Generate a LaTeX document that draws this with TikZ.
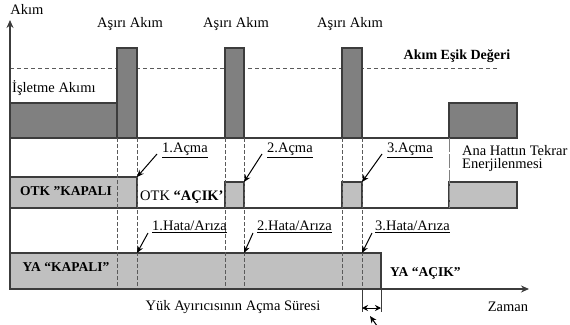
\documentclass[tikz,border=0pt]{standalone}
\usepackage{fontspec}
\setmainfont{Liberation Serif}
\usetikzlibrary{arrows.meta}
\definecolor{darkfill}{RGB}{128,128,128}
\definecolor{lightfill}{RGB}{192,192,192}
\definecolor{edgecol}{RGB}{60,60,60}
\definecolor{dashcol}{RGB}{90,90,90}
\begin{document}
\begin{tikzpicture}[x=1pt,y=-1pt,
  txt/.style={inner sep=0pt,font=\fontsize{14.5}{16}\selectfont},
  btxt/.style={inner sep=0pt,font=\fontsize{13.5}{15}\selectfont\bfseries},
  darkbox/.style={draw=edgecol,fill=darkfill,line width=1.1pt},
  lightbox/.style={draw=edgecol,fill=lightfill,line width=1.1pt},
  level/.style={draw=edgecol,line width=1.1pt},
  guide/.style={draw=dashcol,line width=0.9pt,dash pattern=on 3.5pt off 2.5pt},
  pointer/.style={draw=black,line width=1pt,-{Stealth[length=7pt,width=6pt]}},
  axis/.style={draw=edgecol,line width=1.4pt,-{Stealth[length=8pt,width=7pt]}}
]
\useasboundingbox (0,0) rectangle (570,324);

% axes
\coordinate (O) at (10,289);
\coordinate (ytop) at (10,20);
\coordinate (xend) at (529,289);

% current threshold
\draw[draw=dashcol,line width=0.9pt,dash pattern=on 4pt off 3pt] (10,68) -- (498,68);

% current trace
\draw[level] (10,138) -- (449,138);
\draw[darkbox] (10,103) rectangle (117,138);
\draw[darkbox] (117,48) rectangle (137,138);
\draw[darkbox] (225,48) rectangle (244,138);
\draw[darkbox] (342,48) rectangle (362,138);
\draw[darkbox] (449,103) rectangle (517,138);

% OTK trace
\draw[level] (10,208) -- (449,208);
\draw[lightbox] (10,177) rectangle (137,208);
\draw[lightbox] (225,182) rectangle (244,208);
\draw[lightbox] (342,182) rectangle (362,208);
\draw[lightbox] (449,182) rectangle (517,208);
\draw[draw=gray,line width=0.9pt,dash pattern=on 14pt off 2pt] (449,138) -- (449,208);

% YA trace
\draw[lightbox] (10,253) rectangle (381,289);

% corner points that the pointers reach
\coordinate (otk1) at (137,177);
\coordinate (otk2) at (244,182);
\coordinate (otk3) at (362,182);
\coordinate (ya1) at (137,253);
\coordinate (ya2) at (244,253);
\coordinate (ya3) at (362,253);

% switching instants
\foreach \xx in {117,137,225,244,342,362}
  \draw[guide] (\xx,138) -- (\xx,289);

% opening time of the load break switch
\coordinate (t1) at (362,312);
\coordinate (t2) at (381,312);
\draw[edgecol,line width=1pt] (362,289) -- (t1);
\draw[edgecol,line width=1pt] (381,253) -- (t2);
\coordinate (d1) at (362,308);
\coordinate (d2) at (381,308);
\draw[black,line width=1pt,{Stealth[length=6pt,width=6pt]}-{Stealth[length=6pt,width=6pt]}] (d1) -- (d2);
\coordinate (q1) at (380,330);
\coordinate (q2) at (370,316);
\draw[pointer] (q1) -- (q2);

% axes drawn on top
\draw[axis] (O) -- (ytop);
\draw[axis] (O) -- (xend);

% labels
\node[txt] (akim) at (27,9) {Akım};
\node[txt] (zaman) at (508,307) {Zaman};
\node[txt] (sure) at (233,307) {Yük Ayırıcısının Açma Süresi};
\node[txt] (asiri1) at (130,24) {Aşırı Akım};
\node[txt] (asiri2) at (236,24) {Aşırı Akım};
\node[txt] (asiri3) at (350,24) {Aşırı Akım};
\node[btxt,font=\fontsize{14}{16}\selectfont\bfseries] (esik) at (457,56) {Akım Eşik Değeri};
\node[txt,anchor=west] (isletme) at (12,88) {İşletme Akımı};

\node[btxt] (otkkapali) at (66,191) {OTK ˮKAPALI};
\node[txt,anchor=west] (otkacik) at (140,197) {OTK \textbf{“AÇIK’}};
\node[btxt] (yakapali) at (66,267) {YA “KAPALI”};
\node[btxt,anchor=west] (yaacik) at (390,273) {YA “AÇIK”};
\node[txt,anchor=west,align=left,font=\fontsize{14.5}{13}\selectfont] (enerji) at (462,159) {Ana Hattın Tekrar\\Enerjilenmesi};

\node[txt,anchor=west] (ac1) at (162,150) {\underline{1.Açma}};
\node[txt,anchor=west] (ac2) at (267,150) {\underline{2.Açma}};
\node[txt,anchor=west] (ac3) at (387,150) {\underline{3.Açma}};
\node[txt,anchor=west] (h1) at (152,227) {\underline{1.Hata/Arıza}};
\node[txt,anchor=west] (h2) at (257,227) {\underline{2.Hata/Arıza}};
\node[txt,anchor=west] (h3) at (375,227) {\underline{3.Hata/Arıza}};

% pointers from the event labels
\draw[pointer] ([shift={(-5pt,-4pt)}]ac1.west) -- (otk1);
\draw[pointer] ([shift={(-5pt,-4pt)}]ac2.west) -- (otk2);
\draw[pointer] ([shift={(-5pt,-4pt)}]ac3.west) -- (otk3);
\draw[pointer] ([shift={(-4pt,-6pt)}]h1.west) -- (ya1);
\draw[pointer] ([shift={(-4pt,-6pt)}]h2.west) -- (ya2);
\draw[pointer] ([shift={(-3pt,-6pt)}]h3.west) -- (ya3);
\end{tikzpicture}
\end{document}
